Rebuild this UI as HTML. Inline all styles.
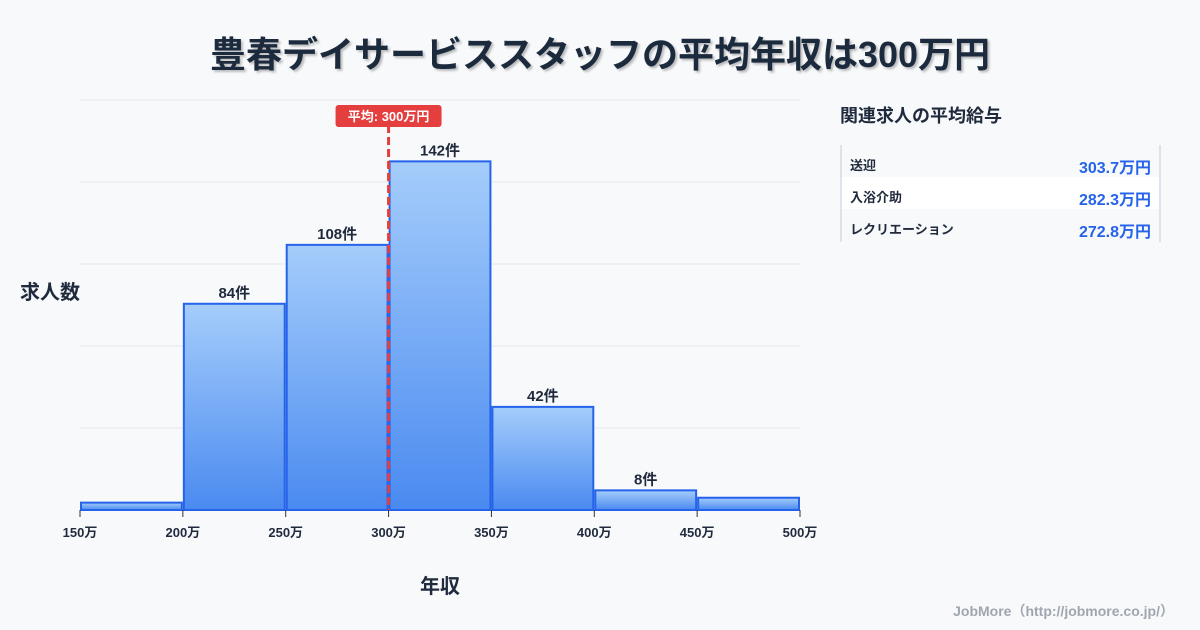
<!DOCTYPE html>
<html><head><meta charset="utf-8">
<style>
body{margin:0;background:#f8f9fb;font-family:"Liberation Sans","Noto Sans CJK JP",sans-serif;}
#wrap{position:relative;width:1200px;height:630px;overflow:hidden;background:#f8f9fb;}
svg{position:absolute;left:0;top:0;}
</style></head><body>
<div id="wrap">
<svg id="chart" width="1200" height="630">
<defs>
<linearGradient id="g" x1="0" y1="0" x2="0" y2="1"><stop offset="0" stop-color="#a5cdfb"/><stop offset="1" stop-color="#4a8af0"/></linearGradient>
<filter id="sh"><feDropShadow dx="2" dy="2" stdDeviation="1" flood-color="#000" flood-opacity="0.25"/></filter>
</defs>
<text x="600" y="67" text-anchor="middle" font-size="36" font-weight="bold" fill="#1f2a3c" filter="url(#sh)" textLength="780" lengthAdjust="spacingAndGlyphs">豊春デイサービススタッフの平均年収は300万円</text>
<text x="20" y="299" font-size="20" font-weight="bold" fill="#1f2a3c">求人数</text>
<text x="440" y="593" text-anchor="middle" font-size="20" font-weight="bold" fill="#1f2a3c">年収</text>
<text x="840" y="122" font-size="18" font-weight="bold" fill="#1f2a3c">関連求人の平均給与</text>
<g id="table">
<line x1="841" y1="145" x2="841" y2="242" stroke="#c5ccd8"/>
<line x1="1160" y1="145" x2="1160" y2="242" stroke="#c5ccd8"/>
<rect x="842" y="177" width="317" height="32" fill="#ffffff"/>
</g>
<text x="1174" y="616" text-anchor="end" font-size="14" font-weight="bold" fill="#a0a6b0">JobMore（http://jobmore.co.jp/）</text>
</svg>
</div>
<script>
const binLabels=["150万","200万","250万","300万","350万","400万","450万","500万"];
const counts=[3,84,108,142,42,8,5];
const showLabel=[false,true,true,true,true,true,false];
const avgValue=300;
const yMax=167;
const gridCount=5;
const rowNames=["送迎","入浴介助","レクリエーション"];
const rowValues=[303.7,282.3,272.8];

const NS="http://www.w3.org/2000/svg";
const svg=document.getElementById('chart');
const L=80,R=800,T=100,B=510;
const xs=v=>L+(v-150)/(500-150)*(R-L);
const ys=c=>B-c/yMax*(B-T);
function el(t,a,p){const e=document.createElementNS(NS,t);for(const k in a)e.setAttribute(k,a[k]);(p||svg).appendChild(e);return e;}
for(let i=0;i<=gridCount;i++){
  const y=T+i*(B-T)/gridCount;
  const g=el('line',{x1:L,x2:R,y1:y,y2:y,stroke:'#e3e7ee'});
  
  
}
counts.forEach((c,i)=>{
  const x0=xs(150+i*50),x1=xs(200+i*50);
  const r=el('rect',{x:x0+1,y:ys(c),width:x1-x0-2,height:B-ys(c),fill:'url(#g)',stroke:'#2563eb','stroke-width':2});
  
  
  if(showLabel[i]){
    const t=el('text',{x:(x0+x1)/2,y:ys(c)-6,'text-anchor':'middle','font-size':15,'font-weight':'bold',fill:'#1f2a3c'});
    t.textContent=c+'件';
    
    
  }
});
binLabels.forEach((lb,i)=>{
  const x=xs(150+i*50);
  const tk=el('line',{x1:x,x2:x,y1:B,y2:B+7,stroke:'#333'});
  
  
  const t=el('text',{x:x,y:B+27,'text-anchor':'middle','font-size':13,'font-weight':'bold',fill:'#1f2a3c'});
  t.textContent=lb;
  
  
});
const ax=xs(avgValue);
const al=el('line',{x1:ax,x2:ax,y1:125,y2:B,stroke:'#e53e3e','stroke-width':3,'stroke-dasharray':'8,4'});


const ab=el('rect',{x:ax-53,y:105,width:106,height:22,rx:3,fill:'#e53e3e'});


const at=el('text',{x:ax,y:121,'text-anchor':'middle','font-size':13,'font-weight':'bold',fill:'#fff'});
at.textContent='平均: '+avgValue+'万円';


rowNames.forEach((n,i)=>{
  const y=170+i*32;
  const a=el('text',{x:850,y:y,'font-size':13,'font-weight':'bold',fill:'#1f2a3c'});
  a.textContent=n;
  
  
  const b=el('text',{x:1151,y:y+3,'text-anchor':'end','font-size':16,'font-weight':'bold',fill:'#2563eb'});
  b.textContent=rowValues[i].toFixed(1)+'万円';
  
  
});
</script>
</body></html>
